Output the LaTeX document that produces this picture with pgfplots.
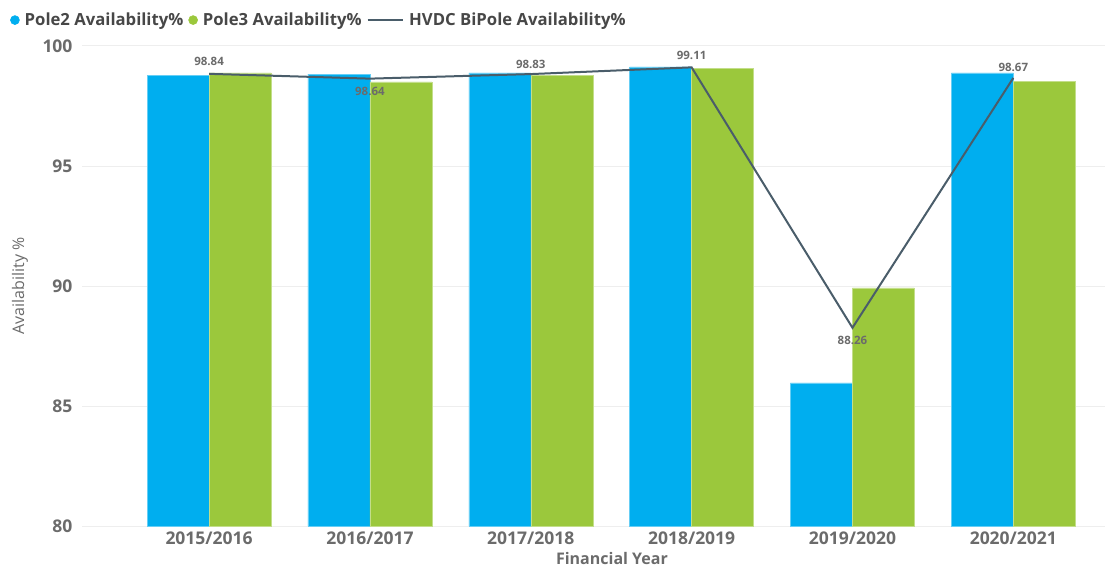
\documentclass[border=0pt]{standalone}
\usepackage{pgfplots}
\pgfplotsset{compat=1.18}
\usepackage{fontspec}
\setmainfont{Open Sans}
\definecolor{poleblue}{HTML}{00AEEF}
\definecolor{polegreen}{HTML}{9BC83C}
\definecolor{hvdc}{HTML}{4A5D6A}
\definecolor{ticktxt}{HTML}{6B6B6B}
\definecolor{gridc}{HTML}{EEEEEE}
\begin{document}
\begin{tikzpicture}
\begin{axis}[
  scale only axis,
  width=1023pt, height=480pt,
  xmin=-0.79, xmax=5.57,
  ymin=80, ymax=100,
  ytick={80,85,90,95,100},
  xtick={0,1,2,3,4,5},
  xticklabels={2015/2016,2016/2017,2017/2018,2018/2019,2019/2020,2020/2021},
  axis line style={draw=none},
  major tick length=0pt,
  ymajorgrids,
  grid style={gridc, line width=1pt},
  tick label style={font=\fontsize{17.5}{20}\selectfont\bfseries, text=ticktxt},
  yticklabel style={xshift=-6pt},
  xticklabel style={yshift=-2pt},
  /pgf/number format/assume math mode=true,
  ylabel={Availability \%},
  ylabel style={at={(axis description cs:-0.0606,0.5)}, anchor=center, font=\fontsize{16}{19}\selectfont, text=ticktxt},
  xlabel={Financial Year},
  xlabel style={at={(axis description cs:0.518,-0.068)}, anchor=center, font=\fontsize{16}{19}\selectfont\bfseries, text=ticktxt},
  legend style={at={(axis description cs:-0.0704,1.054)}, anchor=west, draw=none, fill=none,
    font=\fontsize{16.7}{19}\selectfont\bfseries, text=black!72, legend columns=3,
    column sep=3pt, inner sep=0pt},
  legend cell align=left,
]
\addplot[ybar, bar width=62pt, bar shift=-31pt, fill=poleblue, draw=poleblue!60!white, line width=0.5pt,
  legend image code/.code={\fill[poleblue] (0.12cm,0) circle (4.5pt);}]
  coordinates {(0,98.79) (1,98.83) (2,98.88) (3,99.13) (4,85.96) (5,98.88)};
\addlegendentry{Pole2 Availability\%}
\addplot[ybar, bar width=62pt, bar shift=31pt, fill=polegreen, draw=polegreen!60!white, line width=0.5pt,
  legend image code/.code={\fill[polegreen] (0.12cm,0) circle (4.5pt);}]
  coordinates {(0,98.88) (1,98.50) (2,98.79) (3,99.08) (4,89.92) (5,98.54)};
\addlegendentry{Pole3 Availability\%}
\addplot[sharp plot, hvdc, line width=2pt, mark=none,
  legend image code/.code={\draw[hvdc, line width=2pt] (-0.1cm,0) -- (1.15cm,0);},
  nodes near coords,
  point meta=explicit,
  visualization depends on={\thisrow{dy} \as \dy},
  every node near coord/.append style={anchor=center, yshift=\dy pt, font=\fontsize{11.5}{13}\selectfont\bfseries, text=ticktxt,
    /pgf/number format/.cd, fixed, precision=2, fixed zerofill},
] table[x=x, y=y, meta=y] {
x y dy
0 98.84 12
1 98.64 -13
2 98.83 10
3 99.11 12
4 88.26 -13
5 98.67 10
};
\addlegendentry{HVDC BiPole Availability\%}
\end{axis}
\pgfresetboundingbox
\path[use as bounding box] ([xshift=-82pt,yshift=-41pt]current axis.south west) rectangle ([yshift=46pt]current axis.north east);
\end{tikzpicture}
\end{document}
